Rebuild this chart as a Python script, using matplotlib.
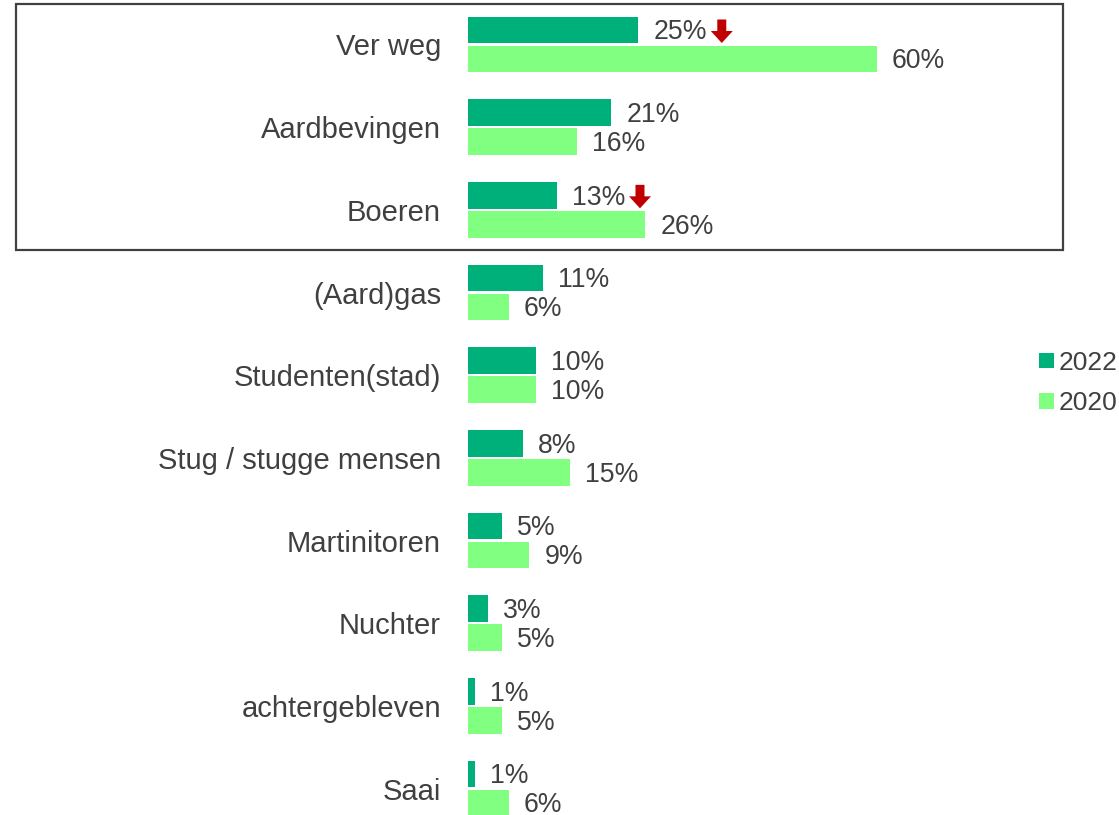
import matplotlib
matplotlib.use("Agg")
import matplotlib.pyplot as plt
import matplotlib.transforms as mtransforms
from matplotlib.patches import Polygon, Rectangle, Patch

categories = ["Ver weg", "Aardbevingen", "Boeren", "(Aard)gas", "Studenten(stad)",
              "Stug / stugge mensen", "Martinitoren", "Nuchter", "achtergebleven", "Saai"]
values_2022 = [25, 21, 13, 11, 10, 8, 5, 3, 1, 1]
values_2020 = [60, 16, 26, 6, 10, 15, 9, 5, 5, 6]
down_flags = [True, False, True, False, False, False, False, False, False, False]
series_labels = ["2022", "2020"]

C2022 = "#00B07B"
C2020 = "#80FF80"
TXT = "#404040"
ARROW = "#C00000"

plt.rcParams['font.family'] = ['Liberation Sans', 'DejaVu Sans']

W, H = 1119, 815
fig = plt.figure(figsize=(W / 100, H / 100), dpi=100)
ax = fig.add_axes([468 / W, 0, 532 / W, 1])

px_per_pct = 409 / 60.0
row_px = 82.67
ax.set_xlim(0, 532 / px_per_pct)
ax.set_ylim((H - 44.5) / row_px, -44.5 / row_px)

off = 14.5 / row_px
bh = 26.5 / row_px
ys = list(range(len(categories)))
ax.barh([y - off for y in ys], values_2022, height=bh, color=C2022, label=series_labels[0])
ax.barh([y + off for y in ys], values_2020, height=bh, color=C2020, label=series_labels[1])

fs = 21
vfs = 19.2
em_px = vfs * 100 / 72.0
dy = -2.2 * 0.72
for i, (v22, v20) in enumerate(zip(values_2022, values_2020)):
    ax.annotate(f"{v22}%", (v22, i - off), xytext=(15 * 0.72, dy), textcoords="offset points",
                ha="left", va="center", fontsize=vfs, color=TXT)
    ax.annotate(f"{v20}%", (v20, i + off), xytext=(15 * 0.72, dy), textcoords="offset points",
                ha="left", va="center", fontsize=vfs, color=TXT)
    if down_flags[i]:
        nchar = len(f"{v22}")
        xoff = (15 + (0.556 * nchar + 0.889) * em_px + 4) / 100.0
        verts = [(0, 0), (6.5, 0), (6.5, 11.5), (15.5, 11.5), (15.5, 0), (22, 0), (11, -12)]
        verts = [(xoff + vx / 100.0, vy / 100.0 - 0.01) for vx, vy in verts]
        trans = fig.dpi_scale_trans + mtransforms.ScaledTranslation(v22, i - off, ax.transData)
        ax.add_patch(Polygon(verts, closed=True, transform=trans, facecolor=ARROW,
                             edgecolor="none", clip_on=False))

ax.set_yticks(ys)
ax.set_yticklabels(categories, fontsize=fs, color=TXT)
ax.tick_params(axis="y", length=0, pad=27 * 0.72)
ax.set_xticks([])
for s in ax.spines.values():
    s.set_visible(False)
ax.patch.set_alpha(0)

fig.patches.append(Rectangle((16 / W, 1 - 250 / H), 1047 / W, 246 / H, transform=fig.transFigure,
                             fill=False, edgecolor=TXT, linewidth=1.6))

handles = [Patch(facecolor=C2022, label=series_labels[0]),
           Patch(facecolor=C2020, label=series_labels[1])]
fig.legend(handles=handles, loc="center left", bbox_to_anchor=(1039 / W, 1 - 383 / H),
           frameon=False, fontsize=19, handlelength=0.55, handleheight=0.55,
           handletextpad=0.2, labelspacing=0.62, borderpad=0, borderaxespad=0,
           labelcolor=TXT)

fig.savefig("out.png", dpi=100)
